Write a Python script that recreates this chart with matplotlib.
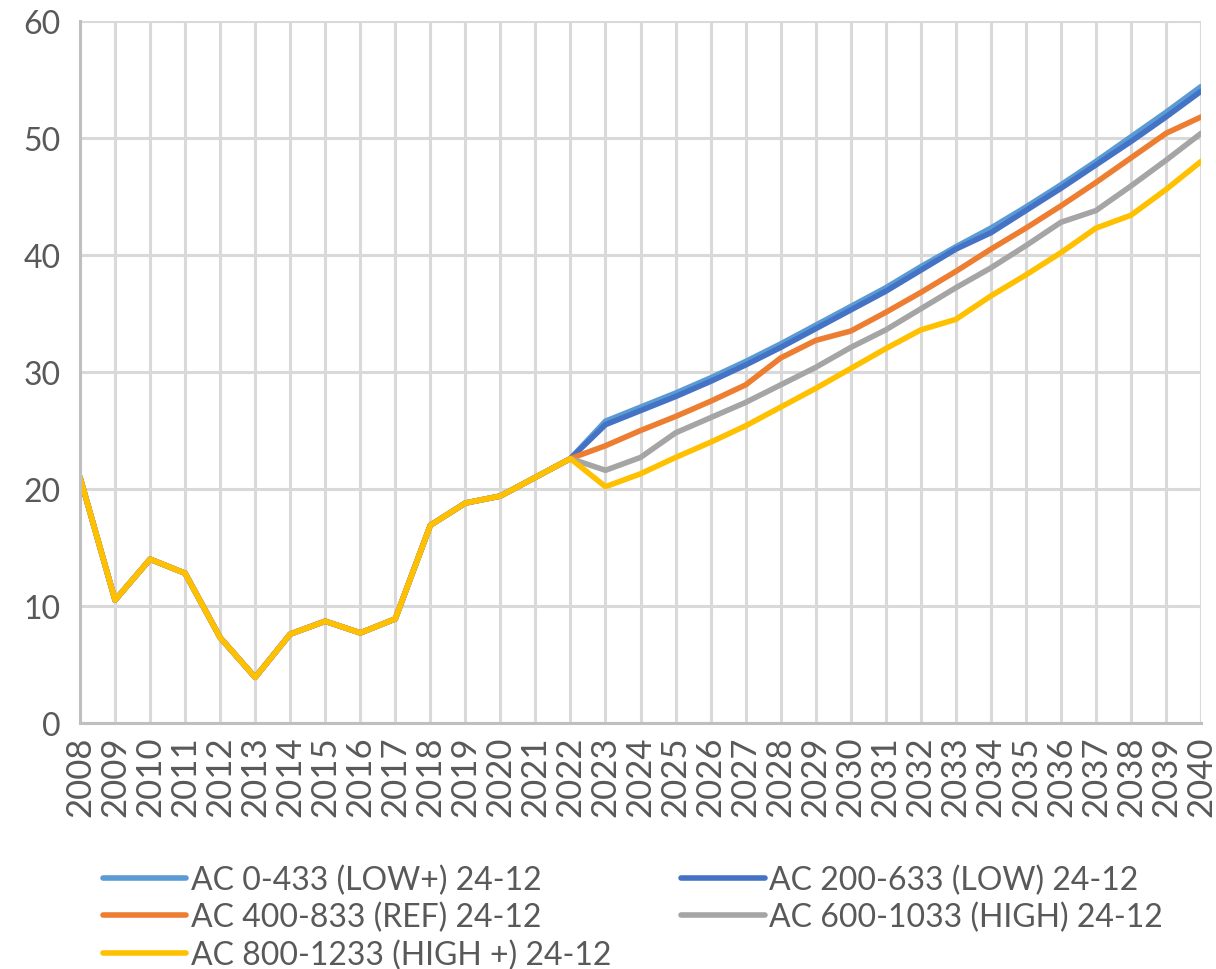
import matplotlib
matplotlib.use("Agg")
import matplotlib.pyplot as plt

years = list(range(2008, 2041))

history = [21.0, 10.5, 14.0, 12.8, 7.3, 3.9, 7.6, 8.7, 7.7, 8.9,
           16.9, 18.8, 19.4, 21.0, 22.6]

low_plus = [25.8, 27.0, 28.2, 29.5, 30.9, 32.4, 34.0, 35.6, 37.2, 39.0,
            40.7, 42.3, 44.1, 46.0, 48.0, 50.1, 52.2, 54.4]
low = [25.5, 26.7, 27.9, 29.2, 30.6, 32.1, 33.7, 35.3, 36.9, 38.7,
       40.5, 41.9, 43.8, 45.7, 47.7, 49.7, 51.8, 54.0]
ref = [23.7, 25.0, 26.2, 27.5, 28.9, 31.2, 32.7, 33.5, 35.1, 36.8,
       38.6, 40.5, 42.3, 44.2, 46.2, 48.3, 50.4, 51.8]
high = [21.6, 22.7, 24.8, 26.1, 27.4, 28.9, 30.4, 32.1, 33.6, 35.4,
        37.2, 38.9, 40.8, 42.8, 43.8, 45.9, 48.1, 50.4]
high_plus = [20.2, 21.3, 22.7, 24.0, 25.4, 27.0, 28.6, 30.3, 32.0, 33.6,
             34.5, 36.5, 38.3, 40.2, 42.3, 43.4, 45.6, 48.0]

labels = ["AC 0-433 (LOW+) 24-12", "AC 200-633 (LOW) 24-12",
          "AC 400-833 (REF) 24-12", "AC 600-1033 (HIGH) 24-12",
          "AC 800-1233 (HIGH +) 24-12"]
colors = ["#5B9BD5", "#4472C4", "#ED7D31", "#A5A5A5", "#FFC000"]
series = [low_plus, low, ref, high, high_plus]

plt.rcParams['font.family'] = ['Lato', 'DejaVu Sans']

fig = plt.figure(figsize=(12.16, 9.70), dpi=100)
ax = fig.add_axes([0.0658, 0.2536, 0.9219, 0.7237])

handles = []
for vals, c, lab in zip(series, colors, labels):
    full = history + vals
    h, = ax.plot(years, full, color=c, lw=4, solid_capstyle='round',
                 solid_joinstyle='round', label=lab)
    handles.append(h)

ax.set_xlim(2008, 2040)
ax.set_ylim(0, 60)
ax.set_xticks(years)
ax.set_xticklabels([str(y) for y in years], rotation=90)
ax.set_yticks(range(0, 61, 10))
ax.grid(True, color="#D9D9D9", lw=2.2)
ax.set_axisbelow(True)
for s in ["top", "right"]:
    ax.spines[s].set_visible(False)
for s in ["left", "bottom"]:
    ax.spines[s].set_color("#BFBFBF")
    ax.spines[s].set_linewidth(2.2)
ax.tick_params(axis='both', length=0, labelsize=23, colors="#595959", pad=8)
ax.tick_params(axis='x', labelsize=25, pad=9)
ax.tick_params(axis='y', pad=14)

order = [0, 2, 4, 1, 3]
leg = fig.legend([handles[i] for i in order], [labels[i] for i in order],
                 ncol=2, loc='upper left', bbox_to_anchor=(0.0847, 0.108),
                 frameon=False, fontsize=23, handlelength=2.6,
                 handletextpad=0.15, columnspacing=2.2, labelspacing=0.23,
                 borderaxespad=0, borderpad=0)
for t in leg.get_texts():
    t.set_color("#595959")

fig.savefig("out.png", dpi=100)
